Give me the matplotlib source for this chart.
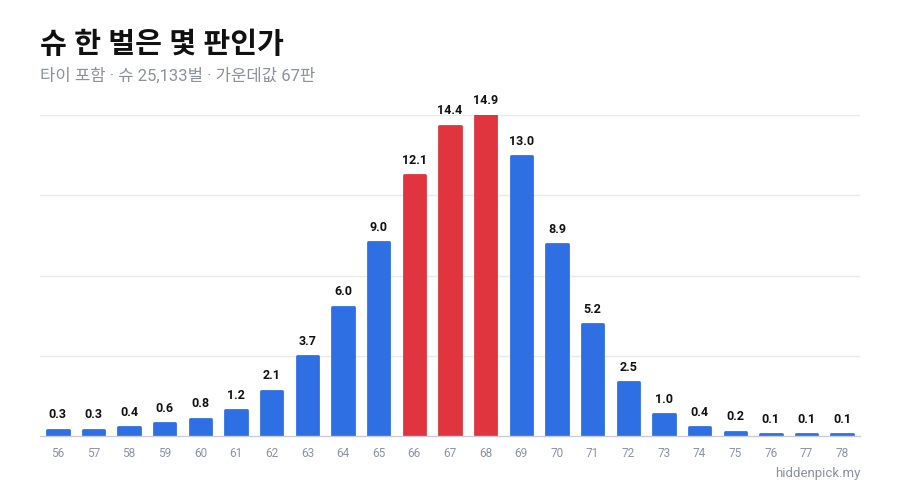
import matplotlib
matplotlib.use('Agg')
import matplotlib.pyplot as plt
import numpy as np

plt.rcParams['font.family'] = ['Roboto', 'Noto Sans CJK KR', 'DejaVu Sans']

# hands per shoe (tick labels) and share of shoes in %
hands = [56, 57, 58, 59, 60, 61, 62, 63, 64, 65, 66, 67,
         68, 69, 70, 71, 72, 73, 74, 75, 76, 77, 78]
share = [0.3, 0.3, 0.4, 0.6, 0.8, 1.2, 2.1, 3.7, 6.0, 9.0, 12.1, 14.4,
         14.9, 13.0, 8.9, 5.2, 2.5, 1.0, 0.4, 0.2, 0.1, 0.1, 0.1]
highlight = [66, 67, 68]

title = '슈 한 벌은 몇 판인가'
subtitle = '타이 포함 · 슈 25,133벌 · 가운데값 67판'
source = 'hiddenpick.my'

blue = '#2f6fe4'
red = '#e0353f'

fig = plt.figure(figsize=(9, 5), dpi=100)
ax = fig.add_axes([40/900, 64/500, 820/900, 321/500])

x = np.arange(len(hands))
cols = [red if h in highlight else blue for h in hands]
bars = ax.bar(x, share, width=0.6, color=cols, edgecolor=cols,
              linewidth=2, zorder=3)
for b in bars:
    b.set_joinstyle('round')

ymax = max(share)
ax.set_ylim(0, ymax)
ax.set_xlim(-0.5, len(hands) - 0.5)
ax.set_yticks([ymax * f for f in (0.25, 0.5, 0.75, 1.0)])
ax.yaxis.grid(True, color='#e8eaee', linewidth=1, zorder=0)
ax.tick_params(axis='y', left=False, labelleft=False)
ax.set_xticks(x)
ax.set_xticklabels([str(h) for h in hands], color='#8b93a5', fontsize=8.5)
ax.tick_params(axis='x', length=0, pad=8)
for s in ['top', 'right', 'left']:
    ax.spines[s].set_visible(False)
ax.spines['bottom'].set_color('#c9cdd8')
ax.spines['bottom'].set_linewidth(1)
ax.spines['bottom'].set_zorder(4)

for xi, v in zip(x, share):
    ax.annotate('{:.1f}'.format(v), (xi, v), xytext=(0, 6),
                textcoords='offset points', ha='center', va='bottom',
                fontsize=9, fontweight='bold', color='#111111',
                annotation_clip=False)

fig.text(40/900, 1 - 45/500, title, fontsize=21, fontweight='bold',
         color='#111111', va='center', ha='left')
fig.text(40/900, 1 - 76/500, subtitle, fontsize=12, color='#8a909c',
         va='center', ha='left')
fig.text(860/900, 1 - 474/500, source, fontsize=9.5, color='#8a909c',
         va='center', ha='right')

fig.savefig('out.png', dpi=100, facecolor='white')
